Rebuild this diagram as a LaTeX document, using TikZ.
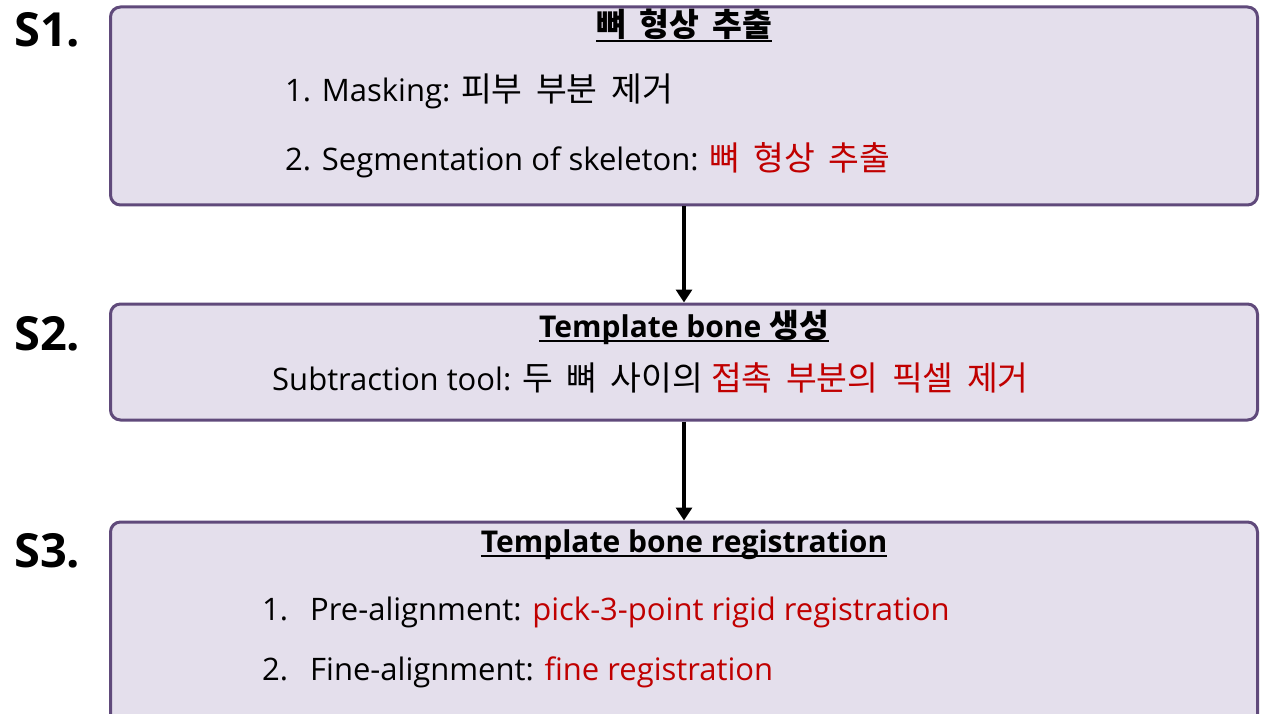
\documentclass[tikz,border=0pt]{standalone}
\usepackage{fontspec}
\setmainfont{Open Sans}
\newfontfamily\kr[Scale=1.08, WordSpace=1.8]{Noto Sans CJK KR}
\usetikzlibrary{arrows.meta}

\definecolor{boxfill}{HTML}{E4DFEC}
\definecolor{boxline}{HTML}{604A7B}
\definecolor{hilite}{HTML}{C00000}

% underline set close under the baseline
\newcommand{\titleline}[1]{\setbox0\hbox{#1}\rlap{\rule[-5pt]{\wd0}{2pt}}\box0}

\tikzset{
  stepbox/.style={draw=boxline, fill=boxfill, line width=3pt, rounded corners=10pt},
  steplabel/.style={font=\fontsize{47}{52}\selectfont\bfseries, anchor=base west, inner sep=0pt},
  boxtitle/.style={font=\fontsize{30}{36}\selectfont\bfseries, anchor=base, inner sep=0pt},
  boxline/.style={font=\fontsize{31}{36}\selectfont, anchor=base west, inner sep=0pt},
  flow/.style={line width=3.5pt, -{Triangle[length=13pt, width=16pt]}}
}

\begin{document}
\begin{tikzpicture}[x=1pt, y=-1pt]

    \clip (0,0) rectangle (1261,714);
    \fill[white] (0,0) rectangle (1261,714);

    % step 1
    \node[stepbox, minimum width=1147pt, minimum height=198pt] (box1) at (684,106) {};
    \node[steplabel] (s1) at (14,47) {S1.};
    \node[boxtitle] (t1) at (684,37) {\titleline{\kr 뼈 형상 추출}};
    \node[boxline] (b1a) at (285,102) {1. Masking: {\kr 피부 부분 제거}};
    \node[boxline] (b1b) at (285,171) {2. Segmentation of skeleton: \textcolor{hilite}{\kr 뼈 형상 추출}};

    % step 2
    \node[stepbox, minimum width=1147pt, minimum height=116pt] (box2) at (684,362) {};
    \node[steplabel] (s2) at (14,350) {S2.};
    \node[boxtitle] (t2) at (684,337) {\titleline{Template bone {\kr 생성}}};
    \node[boxline] (b2a) at (272,390) {Subtraction tool: {\kr 두 뼈 사이의} \textcolor{hilite}{\kr 접촉 부분의 픽셀 제거}};

    % step 3
    \node[stepbox, minimum width=1147pt, minimum height=210pt] (box3) at (684,627) {};
    \node[steplabel] (s3) at (14,567) {S3.};
    \node[boxtitle] (t3) at (684,552) {\titleline{Template bone registration}};
    \node[boxline] (n3a) at (262,620) {1.};
    \node[boxline] (b3a) at (310,620) {Pre-alignment: \textcolor{hilite}{pick-3-point rigid registration}};
    \node[boxline] (n3b) at (262,680) {2.};
    \node[boxline] (b3b) at (310,680) {Fine-alignment: \textcolor{hilite}{fine registration}};

    % arrows
    \draw[flow] (box1.south) -- (box2.north);
    \draw[flow] (box2.south) -- (box3.north);

\end{tikzpicture}
\end{document}
